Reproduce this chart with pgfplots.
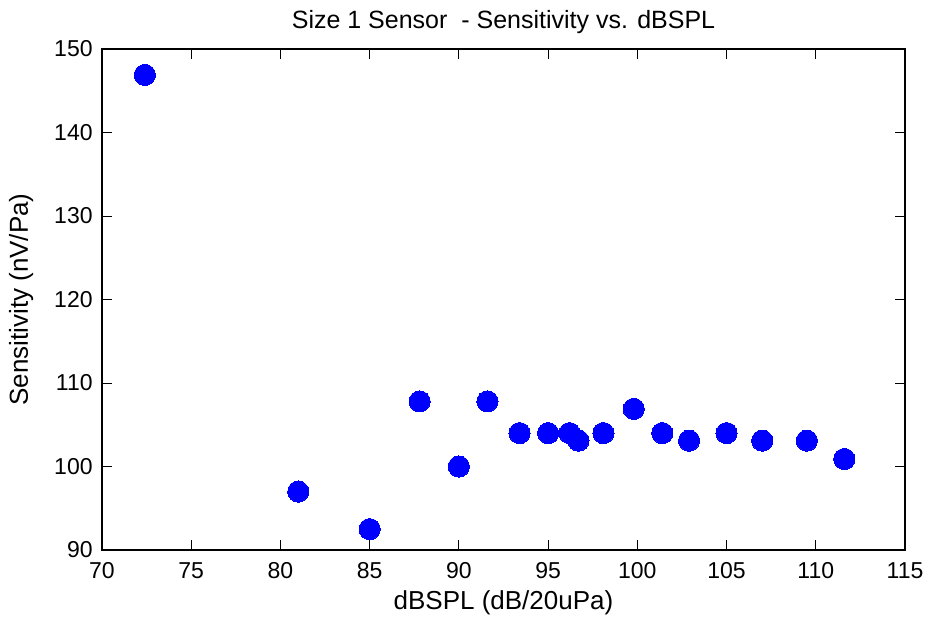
\documentclass[border=0pt]{standalone}
\usepackage{fontspec}
\setmainfont{Liberation Sans}
\usepackage{pgfplots}
\pgfplotsset{compat=1.18}
\begin{document}
\begin{tikzpicture}
    \begin{axis}[
            scale only axis,
            width=401.5pt,
            height=250.5pt,
            at={(0,0)},
            anchor=south west,
            xmin=70, xmax=115,
            ymin=90, ymax=150,
            xtick={70,75,...,115},
            ytick={90,100,...,150},
            tick align=inside,
            major tick length=5pt,
            tick style={black, line width=0.4pt},
            axis line style={black, line width=0.6pt},
            /pgf/number format/assume math mode=true,
            tick label style={font=\fontsize{11.5}{13}\selectfont},
            xticklabel style={anchor=north, inner sep=0pt, yshift=-6pt},
            yticklabel style={anchor=east, inner sep=0pt, xshift=-4.5pt},
            every axis title shift=0pt,
            title={Size 1 Sensor\ \ - Sensitivity vs. dBSPL},
            title style={at={(0.5,1)}, anchor=base, yshift=10.5pt,
                    inner sep=0pt, font=\fontsize{12.5}{14}\selectfont},
            xlabel={dBSPL (dB/20uPa)},
            xlabel style={at={(0.5,0)}, anchor=base, yshift=-29.5pt,
                    inner sep=0pt, font=\fontsize{13}{15}\selectfont},
            ylabel={Sensitivity (nV/Pa)},
            ylabel style={at={(0,0.5)}, anchor=base, yshift=37pt,
                    inner sep=0pt, font=\fontsize{13}{15}\selectfont},
        ]
        \addplot[
            only marks,
            mark=*,
            mark size=5.3pt,
            mark options={fill=blue, draw=blue, line width=0pt},
        ] table {
                x y
                72.4 146.9
                81.0 97.0
                85.0 92.5
                87.8 107.8
                90.0 100.0
                91.6 107.8
                93.4 104.0
                95.0 104.0
                96.2 104.0
                96.7 103.1
                98.1 104.0
                99.8 106.9
                101.4 104.0
                102.9 103.1
                105.0 104.0
                107.0 103.1
                109.5 103.1
                111.6 100.9
            };
    \end{axis}
    \pgfresetboundingbox
    \path (-51pt,-34pt) rectangle (415pt,275pt);
\end{tikzpicture}
\end{document}
